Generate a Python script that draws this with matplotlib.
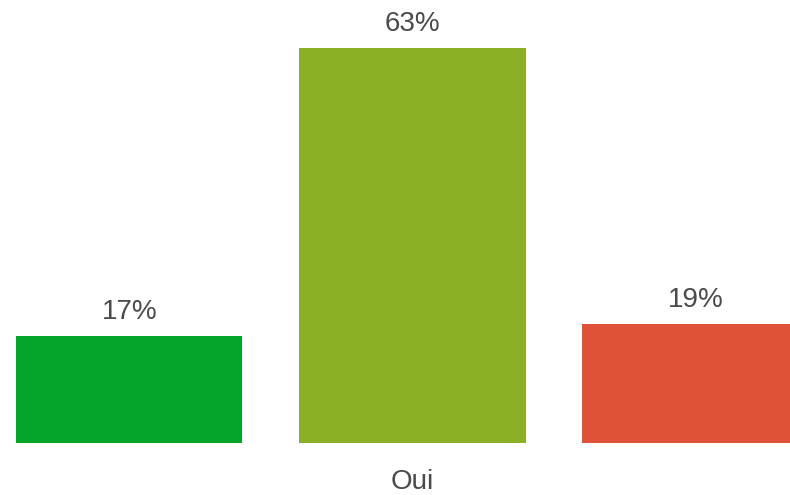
import matplotlib.pyplot as plt

plt.rcParams["font.family"] = ["Liberation Sans", "DejaVu Sans"]

categories = ["", "Oui", ""]
values = [17, 63, 19]
labels = ["17%", "63%", "19%"]
colors = ["#05a52a", "#8baf25", "#e05238"]

fig = plt.figure(figsize=(7.9, 4.95), dpi=100)
ax = fig.add_axes([0, 52 / 495, 1, 443 / 495])

x = range(len(values))
bars = ax.bar(x, values, width=0.8, color=colors)

for b, lab in zip(bars, labels):
    ax.annotate(lab, (b.get_x() + b.get_width() / 2, b.get_height()),
                xytext=(0, 8), textcoords="offset points",
                ha="center", va="bottom", fontsize=20, color="#4a4a4a")

ax.set_xlim(-0.4565, 2.334)
ax.set_ylim(0, 70.6)
ax.set_xticks(list(x))
ax.set_xticklabels(categories, fontsize=20, color="#4a4a4a")
ax.tick_params(axis="x", length=0, pad=18.5)
ax.set_yticks([])
for s in ax.spines.values():
    s.set_visible(False)

fig.savefig("out.png", dpi=100)
